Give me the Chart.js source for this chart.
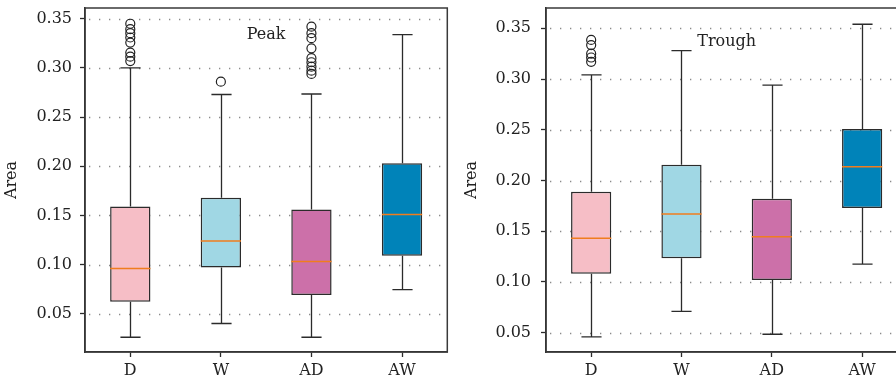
<!DOCTYPE html>
<html>
<head>
<meta charset="utf-8">
<script src="https://cdn.jsdelivr.net/npm/chart.js@4/dist/chart.umd.min.js"></script>
<style>
  html, body { margin: 0; padding: 0; background: #fff; overflow: hidden; }
  body { width: 896px; height: 386px; position: relative; }
  .panel { position: absolute; top: 0; }
</style>
</head>
<body>
<div class="panel" style="left:0px"><canvas id="peakChart" width="453" height="386"></canvas></div>
<div class="panel" style="left:460px"><canvas id="troughChart" width="453" height="386"></canvas></div>
<script>
// categories and tick labels
const categories = ["D", "W", "AD", "AW"];
const tickValues = [0.05, 0.10, 0.15, 0.20, 0.25, 0.30, 0.35];
const boxColors = ["#f6bec6", "#a0d7e4", "#cc70a9", "#0083b9"];

// Peak panel
const peakLow = [0.026, 0.040, 0.026, 0.0745];
const peakQ1 = [0.062, 0.097, 0.069, 0.109];
const peakMedian = [0.096, 0.124, 0.103, 0.151];
const peakQ3 = [0.159, 0.168, 0.156, 0.203];
const peakHigh = [0.300, 0.273, 0.2735, 0.334];
const peakOutliers = [
  ["D", 0.345], ["D", 0.3395], ["D", 0.3354], ["D", 0.331], ["D", 0.3258],
  ["D", 0.3156], ["D", 0.3115], ["D", 0.307],
  ["W", 0.286],
  ["AD", 0.342], ["AD", 0.3354], ["AD", 0.3303], ["AD", 0.320], ["AD", 0.310],
  ["AD", 0.3058], ["AD", 0.3013], ["AD", 0.2972], ["AD", 0.2939]
];

// Trough panel
const troughLow = [0.046, 0.071, 0.0485, 0.1176];
const troughQ1 = [0.108, 0.1235, 0.102, 0.173];
const troughMedian = [0.143, 0.167, 0.1445, 0.2135];
const troughQ3 = [0.189, 0.2155, 0.182, 0.2507];
const troughHigh = [0.304, 0.328, 0.294, 0.354];
const troughOutliers = [
  ["D", 0.3385], ["D", 0.3335], ["D", 0.325], ["D", 0.3212], ["D", 0.317]
];

const serif = "'DejaVu Serif', 'Liberation Serif', serif";
const ink = "#2b2b2b";

// whiskers, caps, medians, dotted grid, frame and the panel label
const boxParts = {
  id: "boxParts",
  beforeDatasetsDraw(chart, args, opts) {
    const { ctx, chartArea: a } = chart;
    const y = chart.scales.y;
    ctx.save();
    ctx.strokeStyle = "#8a8a8a";
    ctx.lineWidth = 1.3;
    ctx.setLineDash([1.3, 8.7]);
    y.ticks.forEach(t => {
      const py = Math.round(y.getPixelForValue(t.value)) + 0.5;
      ctx.beginPath();
      ctx.moveTo(a.left + 4, py);
      ctx.lineTo(a.right, py);
      ctx.stroke();
    });
    ctx.setLineDash([]);
    const bars = chart.getDatasetMeta(0).data;
    ctx.strokeStyle = ink;
    ctx.lineWidth = 1.3;
    bars.forEach((bar, i) => {
      const cx = Math.round(bar.x) + 0.5;
      const half = bar.width / 4;
      const pLow = y.getPixelForValue(opts.low[i]);
      const pQ1 = y.getPixelForValue(opts.q1[i]);
      const pQ3 = y.getPixelForValue(opts.q3[i]);
      const pHigh = y.getPixelForValue(opts.high[i]);
      ctx.beginPath();
      ctx.moveTo(cx, pQ1); ctx.lineTo(cx, pLow);
      ctx.moveTo(cx, pQ3); ctx.lineTo(cx, pHigh);
      ctx.moveTo(cx - half, pLow); ctx.lineTo(cx + half, pLow);
      ctx.moveTo(cx - half, pHigh); ctx.lineTo(cx + half, pHigh);
      ctx.stroke();
    });
    ctx.restore();
  },
  afterDatasetsDraw(chart, args, opts) {
    const { ctx, chartArea: a } = chart;
    const x = chart.scales.x;
    const y = chart.scales.y;
    const bars = chart.getDatasetMeta(0).data;
    ctx.save();
    ctx.strokeStyle = "#f07d1e";
    ctx.lineWidth = 1.5;
    bars.forEach((bar, i) => {
      const py = y.getPixelForValue(opts.median[i]);
      ctx.beginPath();
      ctx.moveTo(bar.x - bar.width / 2, py);
      ctx.lineTo(bar.x + bar.width / 2, py);
      ctx.stroke();
    });
    ctx.strokeStyle = "#3a3a3a";
    ctx.lineWidth = 1.5;
    ctx.strokeRect(a.left, a.top, a.right - a.left, a.bottom - a.top);
    // panel label, centred between the 2nd and 3rd boxes
    const lx = (x.getPixelForValue(1) + x.getPixelForValue(2)) / 2;
    ctx.fillStyle = "#222";
    ctx.font = "16px " + serif;
    ctx.textAlign = "center";
    ctx.textBaseline = "middle";
    ctx.fillText(opts.label, lx, y.getPixelForValue(opts.labelAt));
    ctx.restore();
  }
};

function renderBox(canvasId, low, q1, median, q3, high, outliers, yMin, yMax, label, labelAt, tickPad, axisWidth) {
  const ctx = document.getElementById(canvasId).getContext("2d");
  return new Chart(ctx, {
    data: {
      labels: categories,
      datasets: [{
        type: "bar",
        data: q1.map((v, i) => [v, q3[i]]),
        backgroundColor: boxColors,
        borderColor: ink,
        borderWidth: 1.5,
        borderSkipped: false,
        categoryPercentage: 1,
        barPercentage: 0.445
      }, {
        type: "line",
        data: outliers.map(o => ({ x: o[0], y: o[1] })),
        showLine: false,
        pointRadius: 4.5,
        pointBorderWidth: 1.2,
        pointBorderColor: "#222",
        pointBackgroundColor: "rgba(0,0,0,0)"
      }]
    },
    options: {
      responsive: false,
      animation: false,
      devicePixelRatio: 1,
      layout: { padding: { left: 0, top: 8, right: 2, bottom: 0 } },
      plugins: {
        legend: { display: false },
        tooltip: { enabled: false },
        boxParts: { low, q1, median, q3, high, label, labelAt }
      },
      scales: {
        x: {
          type: "category",
          offset: true,
          grid: { display: true, offset: false, drawOnChartArea: false, drawTicks: true, tickLength: 5, tickColor: ink, tickWidth: 1.3 },
          border: { display: true, color: ink, width: 1.5 },
          ticks: { color: "#222", font: { family: serif, size: 16 }, padding: 4 },
          afterFit: s => { s.height = 34; s.paddingLeft = 0; s.paddingRight = 0; }
        },
        y: {
          min: yMin,
          max: yMax,
          afterBuildTicks: s => { s.ticks = tickValues.map(v => ({ value: v })); },
          grid: { display: true, drawOnChartArea: false, drawTicks: true, tickLength: 5, tickColor: ink, tickWidth: 1.3 },
          border: { display: true, color: ink, width: 1.5 },
          ticks: { color: "#222", font: { family: serif, size: 16 }, padding: tickPad, callback: v => v.toFixed(2) },
          title: { display: true, text: "Area", color: "#222", font: { family: serif, size: 16 }, padding: { top: 2, bottom: 0 } },
          afterFit: s => { s.width = axisWidth; s.paddingTop = 0; s.paddingBottom = 0; }
        }
      }
    },
    plugins: [boxParts]
  });
}

renderBox("peakChart", peakLow, peakQ1, peakMedian, peakQ3, peakHigh, peakOutliers, 0.011, 0.361, "Peak", 0.3335, 8, 85);
renderBox("troughChart", troughLow, troughQ1, troughMedian, troughQ3, troughHigh, troughOutliers, 0.031, 0.370, "Trough", 0.3365, 10, 86);
</script>
</body>
</html>
